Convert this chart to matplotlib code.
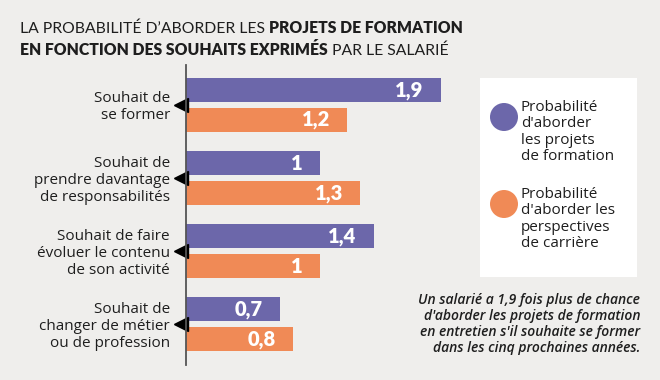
import matplotlib
matplotlib.use("Agg")
import matplotlib.pyplot as plt
from matplotlib.patches import Circle, Rectangle
import numpy as np

categories = [
    "Souhait de\nse former",
    "Souhait de\nprendre davantage\nde responsabilités",
    "Souhait de faire\névoluer le contenu\nde son activité",
    "Souhait de\nchanger de métier\nou de profession",
]
formation = [1.9, 1.0, 1.4, 0.7]
carriere = [1.2, 1.3, 1.0, 0.8]
formation_labels = ["1,9", "1", "1,4", "0,7"]
carriere_labels = ["1,2", "1,3", "1", "0,8"]
series_names = ["Probabilité\nd'aborder\nles projets\nde formation",
                "Probabilité\nd'aborder les\nperspectives\nde carrière"]

PURPLE = "#6c67aa"
ORANGE = "#f08a56"
BG = "#efeeec"
DARK = "#1e1e1e"
FONT = "Lato"
LFONT = "Open Sans"
TFONT = "Lato"

W, H = 660, 380
fig = plt.figure(figsize=(W / 100, H / 100), dpi=100, facecolor=BG)

ov = fig.add_axes([0, 0, 1, 1], zorder=0)
ov.set_xlim(0, W)
ov.set_ylim(H, 0)
ov.axis("off")

left_px, right_px = 186, 186 + 134 * 2
top_px, bot_px = 65, 365
ax = fig.add_axes([left_px / W, (H - bot_px) / H, (right_px - left_px) / W, (bot_px - top_px) / H], zorder=2)
ax.patch.set_alpha(0)
ax.set_xlim(0, 2)
ax.set_ylim(3.56, -0.548)

y = np.arange(len(categories))
off = 0.205
hgt = 0.33
ax.barh(y - off, formation, height=hgt, color=PURPLE)
ax.barh(y + off, carriere, height=hgt, color=ORANGE)

px = 2 / (right_px - left_px)
for yi, v, lab in zip(y, formation, formation_labels):
    ax.text(v - 17 * px, yi - off, lab, ha="right", va="center", color="white",
            fontsize=14.5, fontweight="heavy", family=FONT)
for yi, v, lab in zip(y, carriere, carriere_labels):
    ax.text(v - 17 * px, yi + off, lab, ha="right", va="center", color="white",
            fontsize=14.5, fontweight="heavy", family=FONT)

for s in ["top", "right", "bottom"]:
    ax.spines[s].set_visible(False)
ax.spines["left"].set_color("#555555")
ax.spines["left"].set_linewidth(1.3)
ax.set_xticks([])
ax.set_yticks([])

ax.plot(np.full(len(y), -5.5 * px), y, marker="<", markersize=10, color="black",
        linestyle="none", clip_on=False)
for yi, cat in zip(y, categories):
    ax.text(-16 * px, yi + 0.03, cat, ha="right", va="center", fontsize=11,
            family=LFONT, color=DARK, linespacing=1.2, clip_on=False)

def draw_runs(runs, x0, ybase, size):
    r = fig.canvas.get_renderer()
    x = x0
    for txt, wt in runs:
        t = ov.text(x, ybase, txt, fontsize=size, fontweight=wt, family=TFONT,
                    color=DARK, ha="left", va="baseline")
        bb = t.get_window_extent(renderer=r)
        x += bb.width
    return x

draw_runs([("LA PROBABILITÉ D’ABORDER LES ", "normal"),
           ("PROJETS DE FORMATION", "heavy")], 20, 33, 11.3)
draw_runs([("EN FONCTION DES SOUHAITS EXPRIMÉS", "heavy"),
           (" PAR LE SALARIÉ", "normal")], 20, 55, 11.3)

ov.add_patch(Rectangle((480, 78), 157, 199, facecolor="white", edgecolor="none"))
cols = [PURPLE, ORANGE]
cys = [117, 204]
for c, cy, name in zip(cols, cys, series_names):
    ov.add_patch(Circle((504, cy), 14, facecolor=c, edgecolor="none"))
    ov.text(521, cy - 17, name, ha="left", va="top", fontsize=11, family=LFONT,
            color=DARK, linespacing=1.12)

ov.text(640, 324, "Un salarié a 1,9 fois plus de chance\nd'aborder les projets de formation\n"
        "en entretien s'il souhaite se former\ndans les cinq prochaines années.",
        ha="right", va="center", fontsize=10, style="italic", fontweight="semibold",
        family=LFONT, color=DARK, linespacing=1.18)

fig.savefig("out.png", dpi=100, facecolor=BG)
